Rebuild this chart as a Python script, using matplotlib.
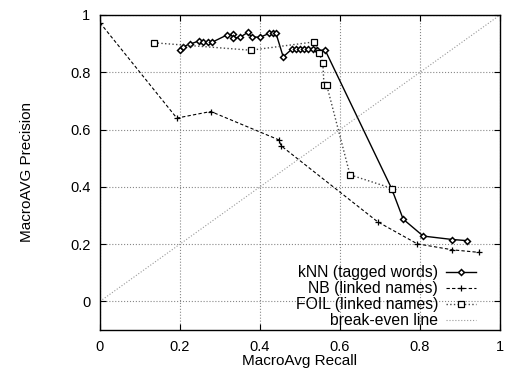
import matplotlib
matplotlib.use("Agg")
import matplotlib.pyplot as plt

plt.rcParams['font.family'] = ['Liberation Sans', 'DejaVu Sans']

# kNN over tagged words
knn_recall = [0.200, 0.208, 0.225, 0.248, 0.258, 0.271, 0.279, 0.317, 0.332, 0.333,
              0.350, 0.369, 0.379, 0.400, 0.423, 0.433, 0.440, 0.458, 0.479, 0.490,
              0.500, 0.510, 0.520, 0.533, 0.543, 0.563, 0.729, 0.758, 0.808, 0.881, 0.918]
knn_prec = [0.877, 0.889, 0.898, 0.910, 0.906, 0.906, 0.904, 0.930, 0.932, 0.920,
            0.922, 0.939, 0.924, 0.922, 0.936, 0.936, 0.936, 0.854, 0.880, 0.880,
            0.880, 0.880, 0.880, 0.880, 0.877, 0.877, 0.394, 0.287, 0.228, 0.216, 0.212]

# naive Bayes over linked names
nb_recall = [0.0, 0.192, 0.277, 0.447, 0.453, 0.694, 0.793, 0.881, 0.948]
nb_prec = [0.973, 0.640, 0.663, 0.564, 0.543, 0.278, 0.201, 0.180, 0.171]

# FOIL over linked names
foil_recall = [0.135, 0.377, 0.535, 0.547, 0.557, 0.560, 0.567, 0.625, 0.731]
foil_prec = [0.903, 0.877, 0.906, 0.868, 0.834, 0.754, 0.754, 0.442, 0.394]

even = [0.0, 1.0]

fig = plt.figure(figsize=(5.13, 3.73), dpi=100)
ax = fig.add_axes([100/513, 1-330/373, 400/513, 315/373])

ax.plot(knn_recall, knn_prec, '-', color='black', lw=1.0, marker='D', ms=3.0,
        mfc='white', mec='black', mew=1.1, label='kNN (tagged words)')
ax.plot(nb_recall, nb_prec, '--', color='black', lw=0.8, dashes=(3, 2), marker='+',
        ms=5, mew=0.9, label='NB (linked names)')
ax.plot(foil_recall, foil_prec, ':', color='#444444', lw=1.0, marker='s', ms=4.0,
        mfc='white', mec='black', mew=0.9, label='FOIL (linked names)')
ax.plot(even, even, ':', color='#999999', lw=0.8, label='break-even line')

ax.set_xlim(0, 1)
ax.set_ylim(-0.1, 1)
ax.set_xticks([0, 0.2, 0.4, 0.6, 0.8, 1])
ax.set_xticklabels(['0', '0.2', '0.4', '0.6', '0.8', '1'])
ax.set_yticks([0, 0.2, 0.4, 0.6, 0.8, 1])
ax.set_yticklabels(['0', '0.2', '0.4', '0.6', '0.8', '1'])
ax.tick_params(direction='in', length=4, top=True, right=True, labelsize=10.5, pad=7)
ax.grid(True, linestyle=':', color='#888888', lw=0.8)
for s in ax.spines.values():
    s.set_linewidth(1.0)

ax.set_xlabel('MacroAvg Recall', fontsize=11, labelpad=0)
ax.set_ylabel('MacroAVG Precision', fontsize=11, labelpad=26)

leg = ax.legend(loc='lower right', bbox_to_anchor=(0.955, -0.015), markerfirst=False,
                frameon=False, fontsize=11.3, handlelength=1.9, labelspacing=0.07,
                handletextpad=0.5, borderaxespad=0.0)

fig.savefig('out.png', dpi=100)
